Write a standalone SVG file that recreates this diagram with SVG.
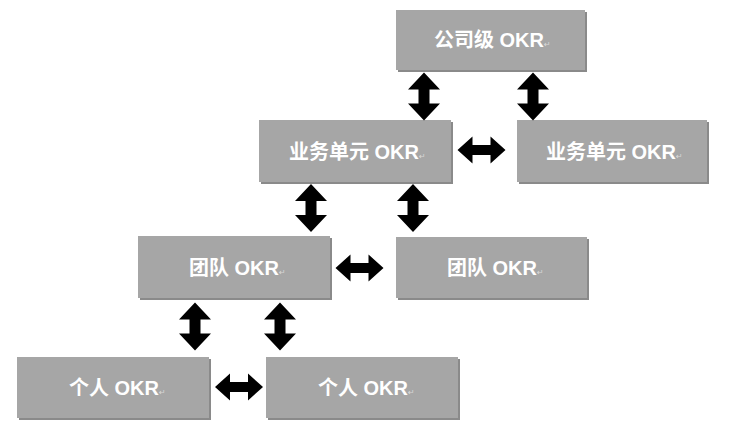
<svg xmlns="http://www.w3.org/2000/svg" width="740" height="438" viewBox="0 0 740 438">
<style>
.box{fill:#a6a6a6}
.sh{fill:#8a8a8a}
.t{font-family:"Liberation Sans","Noto Sans CJK SC",sans-serif;font-weight:bold;font-size:20px;fill:#ffffff;text-anchor:middle}
.m{font-family:"DejaVu Sans",sans-serif;font-size:8px;fill:#d9d9d9}
.ar{fill:#000000}
</style>
<defs>
<path id="va" d="M0,-24 L16,-7 L5.5,-7 L5.5,7 L16,7 L0,24 L-16,7 L-5.5,7 L-5.5,-7 L-16,-7 Z"/>
<path id="ha" d="M-24,0 L-9,-13.5 L-9,-5 L9,-5 L9,-13.5 L24,0 L9,13.5 L9,5 L-9,5 L-9,13.5 Z"/>
</defs>
<rect width="740" height="438" fill="#ffffff"/>
<g id="n1">
<rect class="sh" x="398" y="12" width="189" height="60"/>
<rect class="box" x="396" y="10" width="189" height="60"/>
<text class="t" x="489" y="47">公司级 OKR</text><text class="m" x="544" y="47">↵</text>
</g>
<g id="n2">
<rect class="sh" x="261" y="122" width="192" height="62"/>
<rect class="box" x="259" y="120" width="192" height="62"/>
<text class="t" x="354" y="159">业务单元 OKR</text><text class="m" x="419" y="159">↵</text>
</g>
<g id="n3">
<rect class="sh" x="519" y="122" width="190" height="62"/>
<rect class="box" x="517" y="120" width="190" height="62"/>
<text class="t" x="611" y="159">业务单元 OKR</text><text class="m" x="676" y="159">↵</text>
</g>
<g id="n4">
<rect class="sh" x="140" y="238" width="192" height="62"/>
<rect class="box" x="138" y="236" width="192" height="62"/>
<text class="t" x="234" y="275">团队 OKR</text><text class="m" x="279" y="275">↵</text>
</g>
<g id="n5">
<rect class="sh" x="398" y="239" width="191" height="61"/>
<rect class="box" x="396" y="237" width="191" height="61"/>
<text class="t" x="492" y="275">团队 OKR</text><text class="m" x="537" y="275">↵</text>
</g>
<g id="n6">
<rect class="sh" x="19" y="359" width="192" height="61"/>
<rect class="box" x="17" y="357" width="192" height="61"/>
<text class="t" x="114" y="395">个人 OKR</text><text class="m" x="159" y="395">↵</text>
</g>
<g id="n7">
<rect class="sh" x="268" y="359" width="192" height="61"/>
<rect class="box" x="266" y="357" width="192" height="61"/>
<text class="t" x="363" y="395">个人 OKR</text><text class="m" x="408" y="395">↵</text>
</g>
<g id="connectors" class="ar">
<use href="#va" x="424" y="96.5"/>
<use href="#va" x="533" y="96.5"/>
<use href="#ha" x="481.5" y="150"/>
<use href="#va" x="311" y="208"/>
<use href="#va" x="413" y="208"/>
<use href="#ha" x="359.5" y="268"/>
<use href="#va" x="195" y="326.5"/>
<use href="#va" x="280" y="326.5"/>
<use href="#ha" x="239" y="387"/>
</g>
</svg>
